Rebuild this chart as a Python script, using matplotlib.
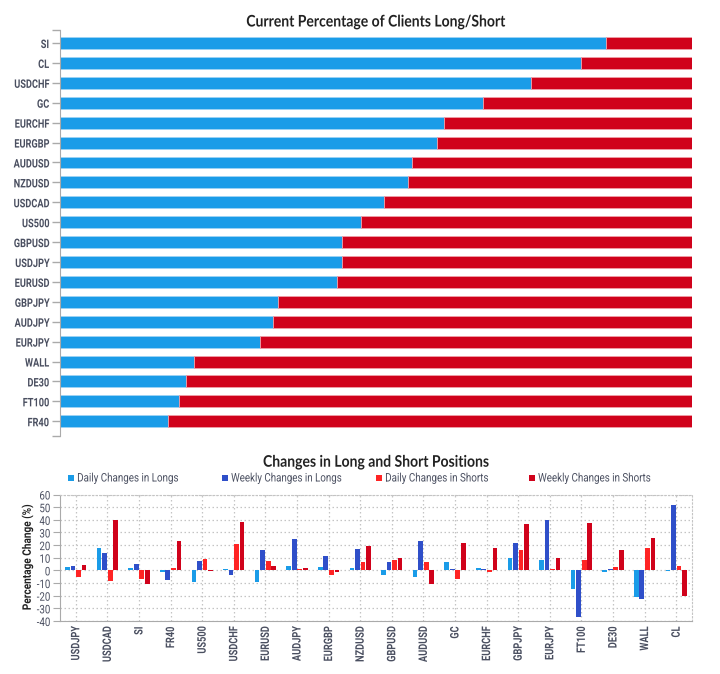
import matplotlib
matplotlib.use('Agg')
import matplotlib.pyplot as plt
from matplotlib.patches import Rectangle
from matplotlib.patheffects import AbstractPathEffect
from matplotlib.transforms import Affine2D
import numpy as np

plt.rcParams['axes.unicode_minus'] = False

sent_names = ['SI','CL','USDCHF','GC','EURCHF','EURGBP','AUDUSD','NZDUSD','USDCAD','US500',
              'GBPUSD','USDJPY','EURUSD','GBPJPY','AUDJPY','EURJPY','WALL','DE30','FT100','FR40']
long_pct = [86.4,82.4,74.5,66.9,60.8,59.7,55.7,55.1,51.3,47.7,
            44.7,44.6,43.9,34.5,33.8,31.7,21.3,20.0,18.9,17.1]

chg_names = ['USDJPY','USDCAD','SI','FR40','US500','USDCHF','EURUSD','AUDJPY','EURGBP','NZDUSD',
             'GBPUSD','AUDUSD','GC','EURCHF','GBPJPY','EURJPY','FT100','DE30','WALL','CL']
daily_long = [3,18,2,-1,-9,1,-9,3.5,3,2,-4,-5.5,7,2,10,8.5,-15,-1,-21,-0.5]
weekly_long = [3.5,13.5,5,-7.5,7.5,-4,16.5,25,11,17,6.5,23.5,1.5,1,22,40,-37,1.5,-23,52]
daily_short = [-5,-8.5,-7,2,9,21,7.5,1.5,-4,7,8,7,-6.5,-1,16,1,8.5,3,18,3.5]
weekly_short = [4.5,40,-10.5,23.5,-0.5,38,3.5,2,-1,19.5,10,-11,21.5,18,36.5,10,37.5,16,25.5,-20]

C_LL, C_WL, C_DS, C_WS = '#1a9ce8', '#2f4fc9', '#ff2424', '#d0021b'
TXT = '#4a4f60'
W, H = 720, 674


class Squeeze(AbstractPathEffect):
    """Narrows a text along one device axis, since no condensed face is installed."""
    def __init__(self, s, axis='x', anchor=1.0):
        self.s, self.axis, self.anchor = s, axis, anchor

    def draw_path(self, renderer, gc, tpath, affine, rgbFace=None):
        e = affine.transform_path(tpath).get_extents()
        if self.axis == 'x':
            p = e.x0 + self.anchor * e.width
            t = Affine2D().translate(-p, 0).scale(self.s, 1).translate(p, 0)
        else:
            p = e.y0 + self.anchor * e.height
            t = Affine2D().translate(0, -p).scale(1, self.s).translate(0, p)
        renderer.draw_path(gc, tpath, affine + t, rgbFace)


fig = plt.figure(figsize=(W/100, H/100), dpi=100, facecolor='white')
rend = fig.canvas.get_renderer()


def fit(t, target, axis='x', anchor=0.5):
    e = t.get_window_extent(rend)
    size = e.width if axis == 'x' else e.height
    t.set_path_effects([Squeeze(target/size, axis, anchor)])


def axbox(l, t, r, b):
    return fig.add_axes([l/W, 1-b/H, (r-l)/W, (b-t)/H])


# top chart
ax = axbox(59.5, 29.5, 692, 436)
y = np.arange(len(sent_names))
lp = np.array(long_pct)
ax.barh(y, lp, height=0.6, color=C_LL, edgecolor='#9fd3f5', linewidth=0.6)
ax.barh(y, 100-lp, left=lp, height=0.6, color=C_WS, edgecolor='#f0a0a8', linewidth=0.6)
ax.set_xlim(0, 100)
ax.set_ylim(19.74, -0.68)
ax.set_yticks(y, sent_names)
ax.set_yticks([19.74, -0.68], minor=True)
ax.set_xticks([])
ax.tick_params(axis='y', which='both', length=5.5, color='#aaaaaa', width=1, pad=2)
ax.tick_params(axis='y', labelsize=8.5, labelcolor=TXT)
for t in ax.get_yticklabels():
    t.set_family('Roboto'); t.set_fontweight('bold')
    t.set_path_effects([Squeeze(0.78, 'x', 1.0)])
for s in ['top', 'right', 'bottom']:
    ax.spines[s].set_visible(False)
ax.spines['left'].set_color('#aaaaaa')
t1 = ax.set_title('Current Percentage of Clients Long/Short', fontsize=11.5, fontweight='bold',
                  family='Lato', color='#222222', pad=1.5)
fit(t1, 259)

# bottom chart
ax2 = axbox(60, 494.5, 692, 621)
x = np.arange(len(chg_names))
for off, vals, c in [(-1.5, daily_long, C_LL), (-0.5, weekly_long, C_WL),
                     (0.5, daily_short, C_DS), (1.5, weekly_short, C_WS)]:
    ax2.bar(x + off*0.175, vals, width=0.15, color=c, zorder=3)
ax2.set_xlim(-0.5, 19.5)
ax2.set_ylim(-40, 60)
ax2.set_yticks(range(-40, 61, 10))
ax2.set_xticks(x, chg_names, rotation=90)
ax2.grid(True, color='#c4c4c4', linestyle=(0, (1.2, 2)), linewidth=0.9, zorder=0)
ax2.tick_params(axis='y', labelsize=8.5, pad=2, length=5, color='#aaaaaa', labelcolor=TXT)
ax2.tick_params(axis='x', labelsize=8.5, pad=4, length=0, labelcolor=TXT)
for t in ax2.get_yticklabels():
    t.set_family('Roboto')
    t.set_path_effects([Squeeze(0.82, 'x', 1.0)])
for t in ax2.get_xticklabels():
    t.set_family('Roboto'); t.set_fontweight('bold')
    t.set_path_effects([Squeeze(0.78, 'y', 1.0)])
for s in ['top', 'right']:
    ax2.spines[s].set_color('#c4c4c4'); ax2.spines[s].set_linestyle((0, (1.2, 2)))
for s in ['left', 'bottom']:
    ax2.spines[s].set_color('#aaaaaa')
yl = ax2.set_ylabel('Percentage Change (%)', fontsize=8.5, fontweight='bold', family='Roboto',
                    color='#222222', va='center')
ax2.yaxis.set_label_coords(-0.052, 0.5)
fit(yl, 105, 'y', 0.5)
t2 = ax2.set_title('Changes in Long and Short Positions', fontsize=11.5, fontweight='bold',
                   family='Lato', color='#222222', pad=20)
fit(t2, 226)

labels = ['Daily Changes in Longs', 'Weekly Changes in Longs', 'Daily Changes in Shorts', 'Weekly Changes in Shorts']
widths = [100, 109, 102, 111]
for px, lab, c, w in zip([68, 222, 376, 529], labels, [C_LL, C_WL, C_DS, C_WS], widths):
    fig.add_artist(Rectangle((px/W, 1-481/H), 6/W, 6/H, transform=fig.transFigure, color=c, lw=0))
    lt = fig.text((px+9)/W, 1-478/H, lab, ha='left', va='center', fontsize=8.5, family='Roboto', color=TXT)
    fit(lt, w, 'x', 0.0)

fig.savefig('out.png', dpi=100)
